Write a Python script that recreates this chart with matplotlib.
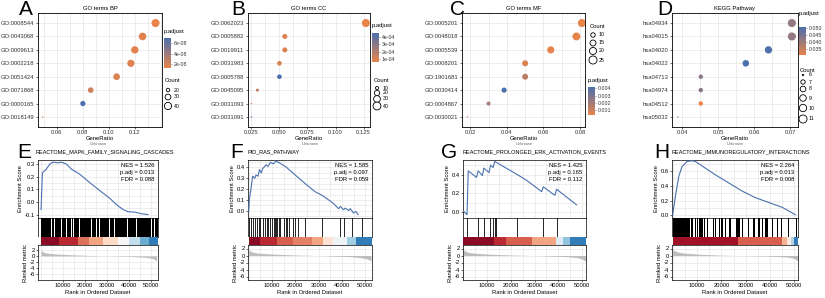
import numpy as np
import matplotlib.pyplot as plt
from matplotlib.colors import LinearSegmentedColormap, Normalize
from matplotlib.ticker import AutoMinorLocator
import matplotlib.cm as cm

plt.rcParams['font.family'] = ['Liberation Sans', 'DejaVu Sans']

W, H = 825, 298
fig = plt.figure(figsize=(8.25, 2.98), dpi=100)


def box(x0, y0, x1, y1):
    # Achsen in Pixelkoordinaten (oben links = 0,0)
    return fig.add_axes([x0 / W, 1 - y1 / H, (x1 - x0) / W, (y1 - y0) / H])


def ftxt(x, y, s, **kw):
    fig.text(x / W, 1 - y / H, s, **kw)


# ---------------- Daten: Dotplots ----------------
bp_terms = ["GO:0008544", "GO:0043068", "GO:0009613", "GO:0002218",
            "GO:0051424", "GO:0071868", "GO:0000165", "GO:0018149"]
bp_ratio = [0.136, 0.126, 0.120, 0.117, 0.106, 0.086, 0.080, 0.049]
bp_count = [47, 43, 41, 40, 36, 29, 27, 17]
bp_padj = [1.2e-8, 1.5e-8, 1.5e-8, 1.6e-8, 1.8e-8, 2.2e-8, 7.0e-8, 1.6e-8]

cc_terms = ["GO:0062023", "GO:0005882", "GO:0019911", "GO:0031983",
            "GO:0005788", "GO:0045095", "GO:0031093", "GO:0031091"]
cc_ratio = [0.127, 0.0548, 0.0548, 0.050, 0.050, 0.0304, 0.025, 0.025]
cc_count = [42, 18, 18, 16, 16, 10, 8, 8]
cc_padj = [0.6e-4, 0.9e-4, 0.9e-4, 1.0e-4, 4.5e-4, 1.5e-4, 1.2e-4, 4.5e-4]

mf_terms = ["GO:0005201", "GO:0048018", "GO:0005539", "GO:0008201",
            "GO:1901681", "GO:0030414", "GO:0004867", "GO:0030021"]
mf_ratio = [0.081, 0.078, 0.064, 0.050, 0.050, 0.0385, 0.030, 0.0185]
mf_count = [25, 24, 20, 15, 15, 12, 9, 6]
mf_padj = [0.0003, 0.0003, 0.0004, 0.0006, 0.0014, 0.0042, 0.0020, 0.0008]

kegg_terms = ["hsa04934", "hsa04015", "hsa04020", "hsa04022",
              "hsa04713", "hsa04974", "hsa04512", "hsa05032"]
kegg_ratio = [0.0705, 0.0705, 0.064, 0.0577, 0.0452, 0.0452, 0.0452, 0.0388]
kegg_count = [11, 11, 10, 9, 7, 7, 7, 6]
kegg_padj = [0.042, 0.042, 0.050, 0.051, 0.043, 0.043, 0.031, 0.040]

# ---------------- Daten: GSEA ----------------
# Ränge in Tausend
e_es_rank = [0, 0.6, 2.4, 4.0, 5.5, 7.7, 9.2, 11.5, 13.8, 17.6, 22.0, 26.7,
             31.2, 34.2, 37.3, 39.5, 42.6, 45.6, 48.6]
e_es_val = [-0.06, 0.23, 0.26, 0.30, 0.315, 0.31, 0.315, 0.30, 0.26, 0.22,
            0.155, 0.09, 0.03, -0.02, -0.06, -0.077, -0.08, -0.093, -0.10]
e_hits = [(0, 4.5), (4.9, 6.0), (6.4, 9.0), (9.4, 11.3), (11.7, 13.6), (14.0, 14.6),
          (15.0, 17.4), (17.8, 18.9), (19.3, 21.6), (22.0, 22.7), (23.1, 25.0),
          (25.4, 26.5), (26.9, 31.0), (31.4, 33.3), (33.7, 34.8), (35.2, 37.1),
          (37.5, 39.3), (39.7, 41.6), (42.0, 43.1), (43.5, 46.2), (46.6, 50.0),
          (50.4, 51.5), (51.9, 53.0)]
e_strip_edges = [0, 8, 17, 22, 28, 35, 40, 45, 49, 53.2]
e_strip_vals = [0.9, 0.75, 0.55, 0.4, 0.2, 0.0, -0.25, -0.5, -0.7]
e_metric_rank = [0, 1, 2, 4, 8, 14, 20, 26, 32, 38, 44, 48, 51, 52.5]
e_metric_val = [1.8, 1.3, 1.0, 0.8, 0.55, 0.35, 0.2, 0.05, -0.05, -0.15, -0.3, -0.5, -0.9, -1.6]

f_es_rank = [0, 0.3, 0.9, 1.7, 2.6, 3.1, 4.0, 4.6, 5.4, 6.0, 6.9, 7.4, 8.3, 9.3,
             10.7, 11.7, 15.7, 20.0, 24.3, 28.6, 31.4, 35.7, 38.6, 39.3, 40.7,
             41.4, 42.9, 43.6, 45.0, 46.0, 46.9]
f_es_val = [0.0, 0.11, 0.19, 0.32, 0.30, 0.33, 0.32, 0.38, 0.35, 0.39, 0.41,
            0.425, 0.41, 0.447, 0.434, 0.46, 0.41, 0.33, 0.25, 0.175, 0.144,
            0.08, 0.02, 0.04, 0.01, 0.025, 0.003, 0.02, -0.02, -0.006, -0.035]
f_hits = [(p, p) for p in [0.3, 0.9, 1.7, 2.6, 3.6, 4.3, 5.0, 6.0, 6.9, 7.9, 8.3,
                           9.3, 10.0, 10.7, 11.1, 11.7, 12.1, 13.1, 13.6, 15.0,
                           16.0, 16.4, 17.1, 18.9, 20.0, 21.1, 24.3, 31.4, 39.3,
                           41.1, 44.3, 48.6]]
f_strip_edges = [0, 5, 12, 19, 27, 32, 36, 42, 46, 52.9]
f_strip_vals = [0.9, 0.75, 0.6, 0.5, 0.4, 0.15, -0.05, -0.35, -0.7]
f_metric_rank = [0, 1, 2, 4, 8, 14, 20, 26, 32, 38, 44, 48, 51, 52.5]
f_metric_val = [1.6, 1.2, 0.9, 0.7, 0.5, 0.3, 0.15, 0.05, -0.05, -0.2, -0.35, -0.6, -1.0, -1.5]

g_es_rank = [0, 1.5, 2.0, 5.5, 6.2, 8.0, 8.6, 10.8, 11.4, 12.5, 13.2, 22.4,
             26.6, 33.0, 33.7, 38.6, 39.3, 47.7]
g_es_val = [0.015, -0.025, 0.44, 0.37, 0.44, 0.39, 0.47, 0.42, 0.50, 0.475,
            0.54, 0.405, 0.34, 0.22, 0.27, 0.18, 0.245, 0.08]
g_hits = [(p, p) for p in [1.5, 6.2, 8.6, 11.4, 12.5, 13.2, 13.7, 22.4, 33.7, 39.3]]
g_strip_edges = [0, 13, 18, 29, 39, 42, 45, 51.7]
g_strip_vals = [0.9, 0.75, 0.6, 0.4, -0.15, -0.4, -0.7]
g_metric_rank = [0, 1, 2, 4, 8, 14, 20, 26, 32, 38, 44, 48, 50, 51.5]
g_metric_val = [1.6, 1.2, 0.9, 0.7, 0.5, 0.3, 0.15, 0.05, -0.05, -0.2, -0.35, -0.6, -1.0, -1.6]

h_es_rank = [0, 1.1, 2.5, 3.8, 5.9, 7.9, 9.3, 13.4, 17.5, 23.0, 28.5, 34.0,
             39.5, 45.0, 50.4]
h_es_val = [0.01, 0.26, 0.53, 0.66, 0.73, 0.74, 0.73, 0.64, 0.55, 0.44, 0.33,
            0.24, 0.175, 0.11, 0.01]
h_hits = [(0, 7.3), (7.6, 8.5), (9.0, 9.4), (10.0, 10.3), (11.0, 12.5), (13.0, 13.3),
          (14.0, 14.4), (15.2, 15.5), (16.5, 16.8), (17.5, 17.7), (19.0, 19.3),
          (20.0, 20.5), (21.5, 22.0), (23.0, 24.0), (25.0, 25.2), (26.0, 27.5),
          (28.5, 29.0), (30.0, 30.3), (31.0, 31.5), (33.0, 34.0), (35.0, 36.0),
          (36.8, 37.2), (38.0, 39.0), (41.0, 41.3), (43.0, 43.2), (44.5, 44.8),
          (46.0, 46.3), (47.5, 47.8), (50.6, 51.0)]
h_strip_edges = [0, 27, 45, 47, 48.5, 50, 51.5]
h_strip_vals = [0.85, 0.6, 0.35, 0.1, -0.3, -0.7]
h_metric_rank = [0, 1, 2, 4, 8, 13, 20, 26, 32, 38, 44, 48, 50, 51.3]
h_metric_val = [1.7, 1.3, 1.0, 0.75, 0.5, 0.3, 0.1, 0.0, -0.05, -0.15, -0.3, -0.5, -0.9, -1.5]

# ---------------- Dotplots ----------------
pcmap = LinearSegmentedColormap.from_list('padj', ['#E8844A', '#4B6FAE'])
GRID = '#E6E6E6'
FS = 4.2


def dsize(c, cmin, cmax):
    t = np.clip((np.asarray(c, float) - cmin) / (cmax - cmin), 0, 1)
    d = 1.0 + np.sqrt(t) * 4.8
    return d ** 2


def dotplot(px, title, letter, letter_x, terms, ratio, count, padj, xlim, xticks,
            xlabels, pticks, plabels, cbar_px, cbar_title_y, cnt_x, cnt_title_y,
            cnt_vals, cnt_ys):
    ax = box(*px)
    n = len(terms)
    y = np.arange(n)[::-1]
    pmin, pmax = min(padj), max(padj)
    norm = Normalize(pmin, pmax)
    cmin, cmax = min(count), max(count)
    ax.scatter(ratio, y, s=dsize(count, cmin, cmax), c=padj, cmap=pcmap, norm=norm,
               edgecolors='none', zorder=3)
    ax.set_xlim(*xlim)
    ax.set_ylim(-0.75, n - 0.25)
    ax.set_yticks(y)
    ax.set_yticklabels(terms, fontsize=FS, color='#333333')
    ax.set_xticks(xticks)
    ax.set_xticklabels(xlabels, fontsize=FS, color='#333333')
    ax.xaxis.set_minor_locator(AutoMinorLocator(2))
    ax.grid(True, which='both', color=GRID, lw=0.5, zorder=0)
    ax.tick_params(length=1.5, width=0.4, pad=1)
    ax.tick_params(which='minor', length=0)
    for s in ax.spines.values():
        s.set_linewidth(0.6)
    ax.set_title(title, fontsize=FS, pad=2)
    ax.set_xlabel('GeneRatio', fontsize=FS, labelpad=0.5)
    ftxt(letter_x, 0, letter, fontsize=15, va='top')

    # p.adjust Farbskala
    x0, y0, x1, y1 = cbar_px
    ftxt(x0, cbar_title_y, 'p.adjust', fontsize=FS, va='center')
    cax = box(x0, y0, x1, y1)
    cb = fig.colorbar(cm.ScalarMappable(norm=norm, cmap=pcmap), cax=cax)
    cb.outline.set_visible(False)
    cb.set_ticks(pticks)
    cb.set_ticklabels(plabels)
    cax.tick_params(labelsize=FS - 0.4, length=1, width=0.4, pad=1, colors='#333333')

    # Count Legende
    ftxt(cnt_x - 3, cnt_title_y, 'Count', fontsize=FS, va='center')
    lax = fig.add_axes([0, 0, 1, 1], facecolor='none')
    lax.set_xlim(0, W)
    lax.set_ylim(H, 0)
    lax.axis('off')
    lax.scatter([cnt_x] * len(cnt_vals), cnt_ys, s=dsize(cnt_vals, cmin, cmax),
                facecolors='white', edgecolors='black', linewidths=0.6)
    for v, yy in zip(cnt_vals, cnt_ys):
        lax.text(cnt_x + 6, yy, str(v), fontsize=FS - 0.4, va='center')


dotplot((38, 13, 162, 127), 'GO terms BP', 'A', 19, bp_terms, bp_ratio, bp_count,
        bp_padj, (0.0454, 0.141), [0.06, 0.08, 0.10, 0.12],
        ['0.06', '0.08', '0.10', '0.12'], [2e-8, 4e-8, 6e-8],
        ['2e-08', '4e-08', '6e-08'], (164, 38, 171, 68), 31, 168, 81,
        [20, 30, 40], [90, 97, 106])

dotplot((248, 13, 370, 127), 'GO terms CC', 'B', 231, cc_terms, cc_ratio, cc_count,
        cc_padj, (0.022, 0.1307), [0.025, 0.050, 0.075, 0.100, 0.125],
        ['0.025', '0.050', '0.075', '0.100', '0.125'], [1e-4, 2e-4, 3e-4, 4e-4],
        ['1e-04', '2e-04', '3e-04', '4e-04'], (372, 33, 379, 62), 25, 377, 80,
        [10, 20, 30, 40], [88, 93, 99, 106])

dotplot((462, 13, 585, 127), 'GO terms MF', 'C', 450, mf_terms, mf_ratio, mf_count,
        mf_padj, (0.0155, 0.0827), [0.02, 0.04, 0.06, 0.08],
        ['0.02', '0.04', '0.06', '0.08'], [0.001, 0.002, 0.003, 0.004],
        ['0.001', '0.002', '0.003', '0.004'], (588, 87, 595, 115), 80, 593, 27,
        [10, 15, 20, 25], [35, 43, 51, 60])

dotplot((672, 13, 798, 127), 'KEGG Pathway', 'D', 657, kegg_terms, kegg_ratio,
        kegg_count, kegg_padj, (0.0372, 0.0722), [0.04, 0.05, 0.06, 0.07],
        ['0.04', '0.05', '0.06', '0.07'], [0.035, 0.040, 0.045, 0.050],
        ['0.035', '0.040', '0.045', '0.050'], (799, 27, 806, 55), 14, 803, 70,
        [6, 7, 8, 9, 10, 11], [75, 82, 89, 98, 108, 119])

# ---------------- GSEA ----------------
rdbu = plt.get_cmap('RdBu_r')
ES_COL = '#4A72B0'


def gsea(xs, letter, letter_x, title, title_x, stats, xlim, es_rank, es_val,
         ylim, yticks, hits, s_edges, s_vals, m_rank, m_val, mylim):
    x0, x1 = xs
    k = 1000.0
    ax1 = box(x0, 160, x1, 218)
    ax2 = box(x0, 218, x1, 237)
    ax3 = box(x0, 237, x1, 245)
    ax4 = box(x0, 245, x1, 280)
    for a in (ax1, ax2, ax3, ax4):
        a.set_xlim(xlim[0] * k, xlim[1] * k)
        for s in a.spines.values():
            s.set_linewidth(0.5)

    # Running Enrichment Score
    ax1.plot(np.array(es_rank) * k, es_val, color=ES_COL, lw=0.8, zorder=3)
    ax1.set_ylim(*ylim)
    ax1.set_yticks(yticks)
    ax1.set_yticklabels([f'{v:.1f}' for v in yticks], fontsize=FS)
    ax1.set_xticks([10000, 20000, 30000, 40000, 50000])
    ax1.set_xticklabels([])
    ax1.xaxis.set_minor_locator(AutoMinorLocator(2))
    ax1.yaxis.set_minor_locator(AutoMinorLocator(2))
    ax1.grid(True, which='both', color=GRID, lw=0.5, zorder=0)
    ax1.tick_params(which='both', length=0, pad=1)
    ax1.tick_params(axis='y', length=1.5, width=0.4)
    ax1.set_ylabel('Enrichment Score', fontsize=FS, labelpad=1)
    ax1.text(0.97, 0.95, stats, transform=ax1.transAxes, ha='right', va='top',
             fontsize=FS, linespacing=1.5)

    # Treffer
    for a, b in hits:
        if b > a:
            ax2.axvspan(a * k, b * k, color='black', lw=0)
        else:
            ax2.axvline(a * k, color='black', lw=0.6)
    ax2.set_xticks([])
    ax2.set_yticks([])

    # Rangliste als Farbband
    norm = Normalize(-1, 1)
    for i, v in enumerate(s_vals):
        ax3.axvspan(s_edges[i] * k, s_edges[i + 1] * k, color=rdbu(norm(v)), lw=0)
    ax3.set_xticks([])
    ax3.set_yticks([])
    for s in ax3.spines.values():
        s.set_visible(False)

    # Ranked metric
    mr = np.array(m_rank) * k
    ax4.fill_between(mr, 0, m_val, color='#BDBDBD', lw=0, zorder=3)
    ax4.set_ylim(*mylim)
    ax4.set_yticks([2, 0, -2, -4, -6])
    ax4.set_yticklabels(['2', '0', '-2', '-4', '-6'], fontsize=FS)
    ax4.set_xticks([10000, 20000, 30000, 40000, 50000])
    ax4.set_xticklabels(['10000', '20000', '30000', '40000', '50000'], fontsize=FS)
    ax4.xaxis.set_minor_locator(AutoMinorLocator(2))
    ax4.grid(True, which='both', color=GRID, lw=0.5, zorder=0)
    ax4.tick_params(length=1.5, width=0.4, pad=1)
    ax4.tick_params(which='minor', length=0)
    ax4.set_ylabel('Ranked metric', fontsize=FS, labelpad=1)
    ax4.set_xlabel('Rank in Ordered Dataset', fontsize=FS, labelpad=1)

    ftxt((x0 + x1) / 2, 144, 'Unknown', fontsize=3.0, color='#666666', ha='center',
         va='center')
    ftxt(letter_x, 158, letter, fontsize=15, va='baseline')
    ftxt(title_x, 152, title, fontsize=4.0, va='center')


gsea((38, 158), 'E', 17, 'REACTOME_MAPK_FAMILY_SIGNALING_CASCADES', 35,
     'NES = 1.526\np.adj = 0.013\nFDR = 0.088', (-1.4, 53.2), e_es_rank, e_es_val,
     (-0.127, 0.332), [-0.1, 0.0, 0.1, 0.2, 0.3], e_hits, e_strip_edges,
     e_strip_vals, e_metric_rank, e_metric_val, (-8, 3.6))

gsea((248, 372), 'F', 230, 'PID_RAS_PATHWAY', 247,
     'NES = 1.585\np.adj = 0.097\nFDR = 0.059', (-0.3, 52.9), f_es_rank, f_es_val,
     (-0.066, 0.469), [0.0, 0.1, 0.2, 0.3, 0.4], f_hits, f_strip_edges,
     f_strip_vals, f_metric_rank, f_metric_val, (-7, 3))

gsea((463, 586), 'G', 441, 'REACTOME_PROLONGED_ERK_ACTIVATION_EVENTS', 462,
     'NES = 1.425\np.adj = 0.165\nFDR = 0.112', (-0.2, 51.7), g_es_rank, g_es_val,
     (-0.06, 0.555), [0.0, 0.2, 0.4], g_hits, g_strip_edges,
     g_strip_vals, g_metric_rank, g_metric_val, (-7, 3))

gsea((672, 798), 'H', 654, 'REACTOME_IMMUNOREGULATORY_INTERACTIONS', 672,
     'NES = 2.264\np.adj = 0.013\nFDR = 0.008', (-0.3, 51.5), h_es_rank, h_es_val,
     (-0.035, 0.75), [0.0, 0.2, 0.4, 0.6], h_hits, h_strip_edges,
     h_strip_vals, h_metric_rank, h_metric_val, (-7, 3))

fig.savefig('out.png', dpi=100)
